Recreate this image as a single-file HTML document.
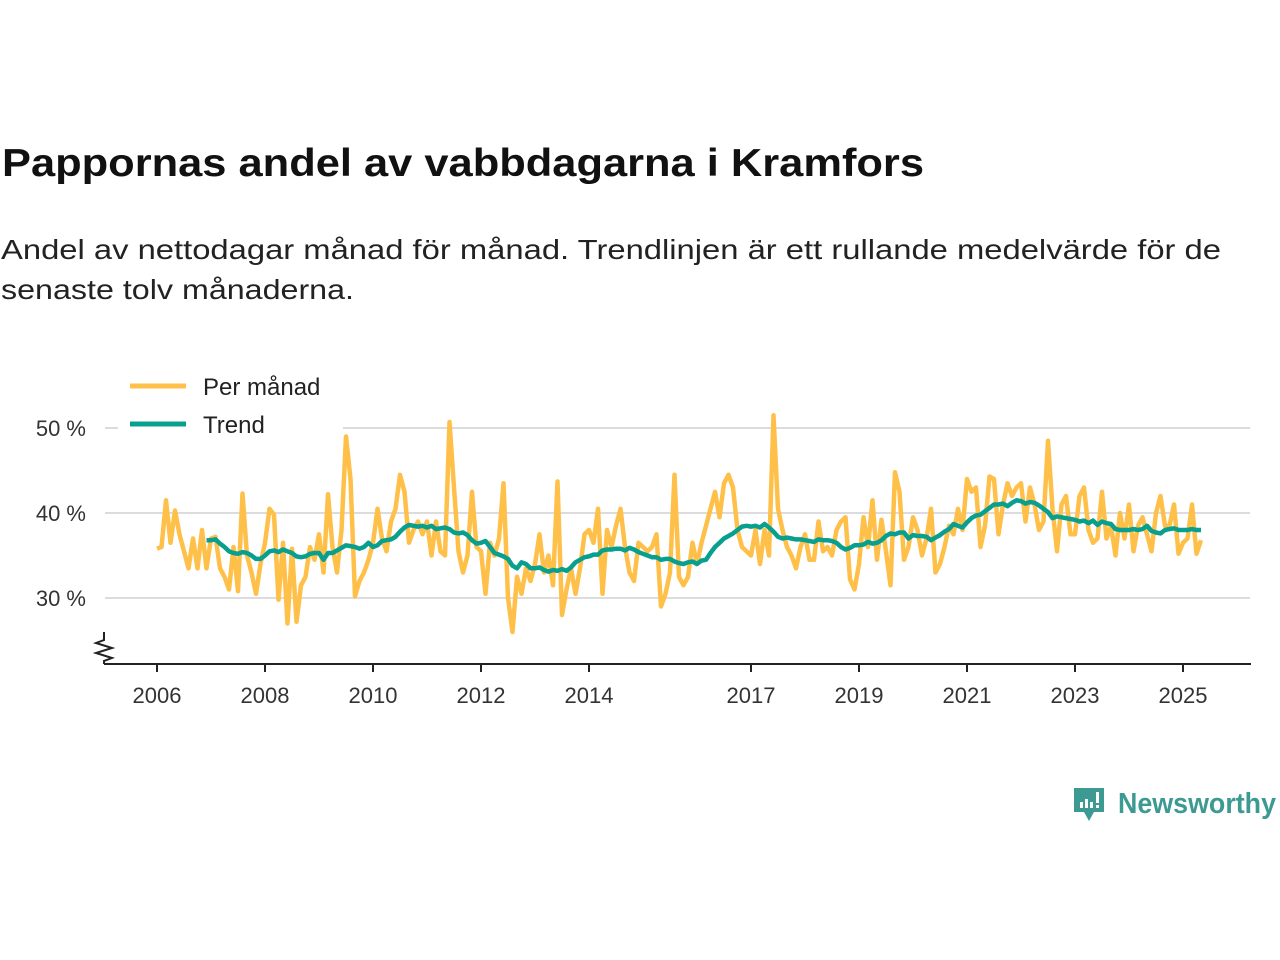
<!DOCTYPE html>
<html><head><meta charset="utf-8"><style>
html,body{margin:0;padding:0;background:#fff;}
svg{display:block;font-family:"Liberation Sans","DejaVu Sans",sans-serif;}
</style></head><body>
<svg id="chart" width="1280" height="960" viewBox="0 0 1280 960" xmlns="http://www.w3.org/2000/svg">
<text x="2" y="176" font-size="39" font-weight="bold" fill="#111" textLength="922" lengthAdjust="spacingAndGlyphs">Pappornas andel av vabbdagarna i Kramfors</text>
<text x="1" y="259" font-size="28" fill="#222" textLength="1220" lengthAdjust="spacingAndGlyphs">Andel av nettodagar månad för månad. Trendlinjen är ett rullande medelvärde för de</text>
<text x="1" y="299" font-size="28" fill="#222" textLength="353" lengthAdjust="spacingAndGlyphs">senaste tolv månaderna.</text>
<g id="grid"></g>
<g id="yaxis"></g>
<g id="xaxis"></g>
<g id="series"></g>
<g>
<rect x="118" y="368" width="225" height="70" fill="#fff"/>
<line x1="130" y1="386" x2="186" y2="386" stroke="#ffc04a" stroke-width="5"/>
<text x="203" y="395" font-size="24" fill="#222">Per månad</text>
<line x1="130" y1="424" x2="186" y2="424" stroke="#089f8f" stroke-width="5"/>
<text x="203" y="433" font-size="24" fill="#222">Trend</text>
</g>
<g>
<path d="M1074 788 h30 v24 h-10 l-5 9 l-5 -9 h-10 z" fill="#3d9a93"/>
<rect x="1080" y="802" width="3" height="6" fill="#fff"/><rect x="1085" y="799" width="3" height="9" fill="#fff"/><rect x="1090" y="802" width="3" height="6" fill="#fff"/><rect x="1096" y="792" width="3" height="11" fill="#fff"/><rect x="1096" y="805" width="3" height="3" fill="#fff"/>
<text x="1118" y="813" font-size="29" font-weight="bold" fill="#3d9a93" textLength="158" lengthAdjust="spacingAndGlyphs">Newsworthy</text>
</g>
</svg>
<script>
const startYear = 2006;
const monthly = [
35.8,36,41.5,36.5,40.3,37.5,35.5,33.5,37,33.5,38,33.5,
37,37.2,33.5,32.5,31,36,30.8,42.3,35,33,30.5,34,
36.5,40.5,39.8,29.8,36.5,27,35.8,27.2,31.5,32.5,36,34.5,
37.5,33,42.2,36,33,38,49,44,30.2,32,33,34.5,
36.5,40.5,37,35.5,39,40.5,44.5,42.5,36.5,38,39,37.5,
39,35,39,35.5,35,50.7,43,35.5,33,35,42.5,36,
35.5,30.5,36.5,35,37,43.5,30,26,32.5,30.5,33.5,32,
34,37.5,33,35,31.5,43.7,28,31,33.5,30.5,33.5,37.5,
38,36.5,40.5,30.5,38,36,38.5,40.5,36,33,32,36.5,
36,35.5,36,37.5,29,30.5,33,44.5,32.5,31.5,32.5,36.5,
34,36.5,38.5,40.5,42.5,39.5,43.5,44.5,43,38,36,35.5,
35,38,34,38,35,51.5,40.5,38,36,35,33.5,36,
37.5,34.5,34.5,39,35.5,36,35,38,39,39.5,32.2,31,
34,39.5,36,41.5,34.5,39.2,35.5,31.5,44.8,42.5,34.5,36,
39.5,38,35,37,40.5,33,34,36,38.5,37.5,40.5,38,
44,42.5,43,36,38.5,44.3,44,37.5,41,43.5,42,43,
43.5,39,43,41,38,39,48.5,40.5,35.5,41,42,37.5,
37.5,42,43,38,36.5,37,42.5,37,38.5,35,40,37,
41,35.5,38.5,39.5,37.5,35.5,40,42,38.5,38.5,41,35.2,
36.5,37,41,35.2,36.8];
const trendStartIndex = 11;
const trend = [36.8,
36.8,36.9,36.4,36,35.5,35.3,35.2,35.4,35.3,35,34.6,34.6,
35,35.5,35.6,35.4,35.7,35.5,35.3,34.9,34.8,34.9,35.2,35.3,
35.3,34.5,35.3,35.3,35.6,35.9,36.2,36.1,36,35.8,36,36.5,
36,36.2,36.7,36.8,36.9,37.2,37.8,38.3,38.6,38.5,38.4,38.5,
38.3,38.5,38.1,38.2,38.3,38.1,37.7,37.6,37.7,37.4,36.8,36.4,
36.5,36.7,36,35.3,35.1,34.9,34.6,33.8,33.5,34.2,34,33.5,
33.5,33.6,33.3,33.1,33.3,33.2,33.4,33.2,33.6,34.2,34.5,34.8,
34.9,35.1,35.1,35.6,35.7,35.7,35.8,35.8,35.6,35.9,35.7,35.4,
35.2,35,34.8,34.8,34.5,34.6,34.6,34.3,34.1,34,34.2,34.3,
34,34.4,34.5,35.3,36,36.5,37,37.3,37.6,38,38.4,38.5,
38.4,38.5,38.3,38.7,38.3,37.8,37.2,37,37.1,37,36.9,36.9,
36.8,36.7,36.6,36.9,36.8,36.8,36.7,36.5,36,35.7,35.9,36.2,
36.2,36.3,36.6,36.4,36.5,36.8,37.3,37.6,37.5,37.7,37.7,37,
37.4,37.3,37.3,37.2,36.8,37.1,37.4,37.8,38.1,38.7,38.5,38.3,
38.9,39.4,39.7,39.8,40.2,40.6,41,41,41.1,40.8,41.2,41.5,
41.4,41.1,41.3,41.2,40.9,40.5,40.1,39.4,39.6,39.5,39.4,39.3,
39.2,39,39.1,38.8,39.1,38.6,39,38.8,38.7,38.1,38,38,
38,38.1,38,38.1,38.5,37.9,37.7,37.6,38,38.1,38.2,38,
38,38,38.1,38,38];
const yTicks = [30,40,50];
const yTickLabels = ["30 %","40 %","50 %"];
const xTickYears = [2006,2008,2010,2012,2014,2017,2019,2021,2023,2025];

const NS="http://www.w3.org/2000/svg";
function X(monthIndex){ return 157 + monthIndex*4.5; }
function XYear(y){ return X((y-startYear)*12); }
function Y(v){ return 598 - (v-30)*8.5; }
function mk(tag, attrs, parent){ const e=document.createElementNS(NS,tag); for(const k in attrs) e.setAttribute(k,attrs[k]); parent.appendChild(e); return e; }

const grid=document.getElementById('grid'), yaxis=document.getElementById('yaxis'), xaxis=document.getElementById('xaxis'), series=document.getElementById('series');
yTicks.forEach((t,i)=>{
  const l=mk('line',{x1:105,x2:1250,y1:Y(t),y2:Y(t),stroke:'#dcdcdc','stroke-width':2},grid);
  
  
  const tx=mk('text',{x:86,y:Y(t)+8,'font-size':22,fill:'#333','text-anchor':'end'},yaxis);
  tx.textContent=yTickLabels[i];
  
  
});
const brk=mk('polyline',{points:'104,632 104,640 96,643 112,648 96,653 112,658 104,661 104,664',fill:'none',stroke:'#222','stroke-width':2},yaxis);


const ax=mk('line',{x1:104,x2:1251,y1:664,y2:664,stroke:'#222','stroke-width':2},xaxis);


xTickYears.forEach(yr=>{
  const x=XYear(yr);
  const t=mk('line',{x1:x,x2:x,y1:664,y2:672,stroke:'#222','stroke-width':2},xaxis);
  
  
  const tx=mk('text',{x:x,y:703,'font-size':22,fill:'#333','text-anchor':'middle'},xaxis);
  tx.textContent=yr;
  
  
});
const mp=mk('polyline',{points:monthly.map((v,i)=>X(i).toFixed(1)+','+Y(v).toFixed(1)).join(' '),fill:'none',stroke:'#ffc04a','stroke-width':4.5,'stroke-linejoin':'round'},series);


const tp=mk('polyline',{points:trend.map((v,i)=>X(i+trendStartIndex).toFixed(1)+','+Y(v).toFixed(1)).join(' '),fill:'none',stroke:'#089f8f','stroke-width':4.5,'stroke-linejoin':'round'},series);


</script>
</body></html>
